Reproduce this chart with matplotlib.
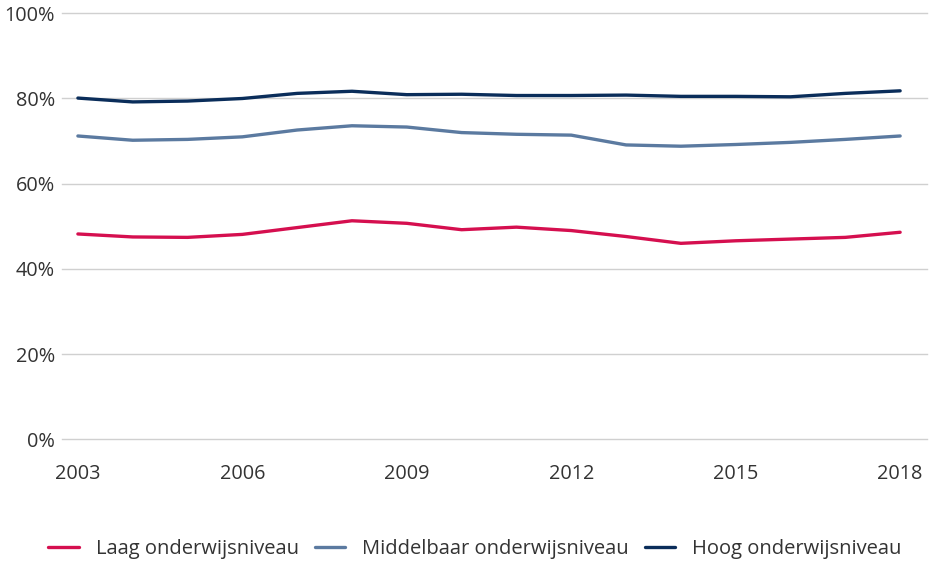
import matplotlib.pyplot as plt
from matplotlib.ticker import FuncFormatter

plt.rcParams['font.family'] = ['Open Sans', 'DejaVu Sans']

years = list(range(2003, 2019))
laag = [48.2, 47.5, 47.4, 48.1, 49.7, 51.3, 50.7, 49.2, 49.8, 49.0, 47.6, 46.0, 46.6, 47.0, 47.4, 48.6]
middelbaar = [71.2, 70.2, 70.4, 71.0, 72.6, 73.6, 73.3, 72.0, 71.6, 71.4, 69.1, 68.8, 69.2, 69.7, 70.4, 71.2]
hoog = [80.1, 79.2, 79.4, 80.0, 81.2, 81.7, 80.9, 81.0, 80.7, 80.7, 80.8, 80.5, 80.5, 80.4, 81.2, 81.8]
labels = ['Laag onderwijsniveau', 'Middelbaar onderwijsniveau', 'Hoog onderwijsniveau']
colors = ['#d50f4f', '#5b7aa0', '#0a2d5a']
xticks = [2003, 2006, 2009, 2012, 2015, 2018]

fig = plt.figure(figsize=(9.32, 5.64), dpi=100)
ax = fig.add_axes([62 / 932, 1 - 439.3 / 564, (927 - 62) / 932, (439.3 - 13.3) / 564])

for series, label, color in zip([laag, middelbaar, hoog], labels, colors):
    ax.plot(years, series, color=color, lw=2.4, label=label, solid_capstyle='round')

ax.set_ylim(0, 100)
ax.set_xlim(2002.71, 2018.49)
ax.set_yticks(range(0, 101, 20))
ax.yaxis.set_major_formatter(FuncFormatter(lambda v, p: f'{v:.0f}%'))
ax.set_xticks(xticks)
ax.grid(axis='y', color='#d0d0d0', lw=1)
for gl in ax.get_ygridlines():
    gl.set_clip_on(False)
ax.set_axisbelow(True)
for s in ax.spines.values():
    s.set_visible(False)
ax.tick_params(axis='y', length=0, pad=5, labelsize=14.3, labelcolor='#333333')
ax.tick_params(axis='x', length=0, pad=18, labelsize=14.3, labelcolor='#333333')

fig.legend(loc='center', bbox_to_anchor=(475 / 932, 1 - 549 / 564), ncol=3, frameon=False,
           fontsize=14.5, handlelength=1.5, columnspacing=0.8, handletextpad=0.85,
           labelcolor='#333333')

fig.savefig('out.png', dpi=100)
